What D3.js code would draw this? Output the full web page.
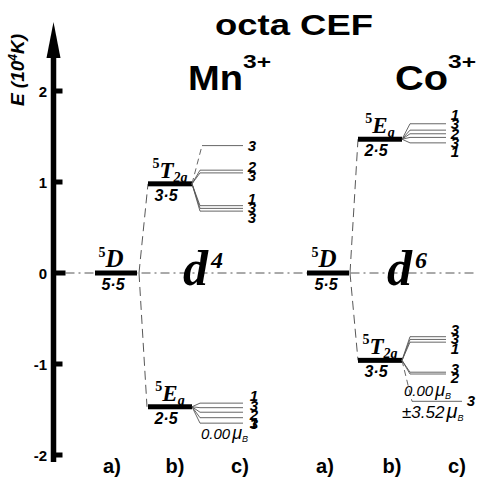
<!DOCTYPE html>
<html>
<head>
<meta charset="utf-8">
<script src="https://cdn.jsdelivr.net/npm/d3@7"></script>
<style>
    body { margin: 0; background: #fff; }
    svg text { fill: #000; }
</style>
</head>
<body>
<div id="chart"></div>
<script>
// energies in units of 10^4 K
const yTicks = [-2, -1, 0, 1, 2];
const ionNames = ["Mn", "Co"];
const dCount = [4, 6];
const columnLabels = ["a)", "b)", "c)"];

// free-ion term 5D (both ions)
const freeIonEnergy = [0, 0];
// CEF terms: [upper, lower] per ion
const mnTerms = [0.98, -1.47];
const mnTermNames = ["T", "E"];
const mnTermSubs = ["2g", "g"];
const mnTermMult = ["3·5", "2·5"];
const coTerms = [1.47, -0.96];
const coTermNames = ["E", "T"];
const coTermSubs = ["g", "2g"];
const coTermMult = ["2·5", "3·5"];

// fine-structure sublevels and their degeneracies
const mnT2gLevels = [1.40, 1.13, 1.10, 0.74, 0.71, 0.68];
const mnT2gDegen = [3, 2, 3, 1, 3, 3];
const mnEgLevels = [-1.43, -1.48, -1.53, -1.59, -1.65];
const mnEgDegen = [1, 3, 2, 3, 1];
const coEgLevels = [1.64, 1.57, 1.53, 1.49, 1.43];
const coEgDegen = [1, 3, 2, 3, 1];
const coT2gLevels = [-0.70, -0.73, -0.76, -1.09, -1.11, -1.41];
const coT2gDegen = [3, 3, 1, 3, 2, 3];

const mnMoments = ["0.00"];
const coMoments = ["0.00", "±3.52"];

const width = 477, height = 482;
const svg = d3.select("#chart").append("svg")
    .attr("width", width)
    .attr("height", height);

const y = d3.scaleLinear().domain([-2, 2]).range([455, 91]);
const axisX = 53.5;

// column centres (a, b) for each ion
const colX = { Mn: [116, 170], Co: [328, 380] };
const barHalf = [21, 22];
const sansB = "'Liberation Sans', Arial, sans-serif";
const serif = "'Liberation Serif', 'Times New Roman', serif";

// ---- zero line (dash-dot)
svg.append("line")
    .attr("x1", axisX + 12).attr("x2", width)
    .attr("y1", y(0)).attr("y2", y(0))
    .attr("stroke", "#555").attr("stroke-width", 1)
    .attr("stroke-dasharray", "9,4,2,4");

// ---- energy axis
svg.append("line")
    .attr("x1", axisX).attr("x2", axisX)
    .attr("y1", 50).attr("y2", 462)
    .attr("stroke", "#000").attr("stroke-width", 5.5);
svg.append("path")
    .attr("d", "M" + axisX + ",22 L" + (axisX - 7) + ",58 L" + (axisX + 7) + ",58 Z")
    .attr("fill", "#000");

svg.selectAll("rect.tick").data(yTicks).enter().append("rect")
    .attr("class", "tick")
    .attr("x", axisX)
    .attr("y", function(d) { return y(d) - 2.5; })
    .attr("width", function(d) { return d == 0 ? 12 : 9; })
    .attr("height", 5)
    .attr("fill", "#000");

svg.selectAll("text.ticklabel").data(yTicks).enter().append("text")
    .attr("class", "ticklabel")
    .attr("x", 47)
    .attr("y", function(d) { return y(d) + 5.5; })
    .attr("text-anchor", "end")
    .style("font", "bold 15px " + sansB)
    .text(function(d) { return d; });

const axisLabel = svg.append("text")
    .attr("transform", "translate(24,70) rotate(-90)")
    .attr("text-anchor", "middle")
    .style("font", "italic bold 19px " + sansB);
axisLabel.append("tspan").text("E (10");
axisLabel.append("tspan").attr("dy", -7).style("font-size", "12px").text("4");
axisLabel.append("tspan").attr("dy", 7).text("K)");

// ---- titles
svg.append("text")
    .attr("x", 215).attr("y", 35)
    .attr("textLength", 158)
    .attr("lengthAdjust", "spacingAndGlyphs")
    .style("font", "bold 29px " + sansB)
    .text("octa CEF");

const ionTitleX = [188, 395];
const ionTitleLen = [55, 53];
ionNames.forEach(function(name, i) {
    svg.append("text")
        .attr("x", ionTitleX[i]).attr("y", 90)
        .attr("textLength", ionTitleLen[i])
        .attr("lengthAdjust", "spacingAndGlyphs")
        .style("font", "bold 35px " + sansB)
        .text(name);
    svg.append("text")
        .attr("x", ionTitleX[i] + ionTitleLen[i]).attr("y", 68)
        .attr("textLength", 28)
        .attr("lengthAdjust", "spacingAndGlyphs")
        .style("font", "bold 19px " + sansB)
        .text("3+");
});

// ---- d^n labels
const dX = [183, 387];
dCount.forEach(function(n, i) {
    const t = svg.append("text")
        .attr("x", dX[i]).attr("y", y(0) + 12)
        .style("font", "italic bold 50px " + serif);
    t.append("tspan").text("d");
    t.append("tspan").attr("dx", 3).attr("dy", -17).style("font-size", "24px").text(n);
});

// ---- column labels
const colLabelX = { Mn: [112, 175, 240], Co: [325, 392, 457] };
ionNames.forEach(function(name) {
    svg.selectAll(null).data(columnLabels).enter().append("text")
        .attr("x", function(d, i) { return colLabelX[name][i]; })
        .attr("y", 473)
        .attr("text-anchor", "middle")
        .style("font", "bold 20px " + sansB)
        .text(function(d) { return d; });
});

// ---- helpers
function termLabel(x, e, letter, sub, mult, big) {
    const t = svg.append("text")
        .attr("x", x).attr("y", y(e) - 6)
        .attr("text-anchor", "middle")
        .style("font", "italic bold " + (big ? 25 : 23) + "px " + serif);
    t.append("tspan").attr("dy", -10).style("font-size", "14px").style("font-style", "normal").text("5");
    t.append("tspan").attr("dy", 10).text(letter);
    if (sub) t.append("tspan").attr("dy", 4).style("font-size", "14px").text(sub);
    svg.append("text")
        .attr("x", big ? x + 2 : x - 4).attr("y", y(e) + 17)
        .attr("text-anchor", "middle")
        .style("font", "italic bold 16px " + sansB)
        .text(mult);
}

function bar(xc, half, e) {
    svg.append("rect")
        .attr("x", xc - half).attr("y", y(e) - 2.5)
        .attr("width", 2 * half).attr("height", 5)
        .attr("fill", "#000");
}

function dashed(x1, e1, x2, e2) {
    svg.append("line")
        .attr("x1", x1).attr("y1", y(e1))
        .attr("x2", x2).attr("y2", y(e2))
        .attr("stroke", "#444").attr("stroke-width", 0.9)
        .attr("stroke-dasharray", "9,5");
}

// spread labels so that they keep a minimal spacing
function spread(ys, gap) {
    const out = ys.slice();
    for (let it = 0; it < 60; it++) {
        for (let k = 1; k < out.length; k++) {
            const d = out[k] - out[k - 1];
            if (d < gap) {
                const push = (gap - d) / 2;
                out[k - 1] -= push;
                out[k] += push;
            }
        }
    }
    return out;
}

function splitting(xEnd, eBar, levels, degen, groups, labelX, lineEnd, extendLast) {
    levels.forEach(function(e, i) {
        const yl = y(e);
        const last = extendLast && i == levels.length - 1;
        const far = Math.abs(yl - y(eBar)) > 30;
        const xs = xEnd + (far ? 10 : 8);
        svg.append("path")
            .attr("d", "M" + xEnd + "," + y(eBar) + " L" + xs + "," + yl)
            .attr("fill", "none")
            .attr("stroke", "#555").attr("stroke-width", 0.9)
            .attr("stroke-dasharray", far ? "6,4" : null);
        svg.append("path")
            .attr("d", "M" + xs + "," + yl + " L" + (last ? lineEnd + 16 : lineEnd) + "," + yl)
            .attr("fill", "none")
            .attr("stroke", "#555").attr("stroke-width", 0.9);
    });
    // labels per group of indices
    groups.forEach(function(g) {
        const ys = spread(g.map(function(i) { return y(levels[i]); }), 9.2);
        g.forEach(function(i, k) {
            const last = extendLast && i == levels.length - 1;
            svg.append("text")
                .attr("x", last ? labelX + 16 : labelX)
                .attr("y", ys[k] + 5)
                .attr("text-anchor", "middle")
                .style("font", "italic bold 15px " + sansB)
                .text(degen[i]);
        });
    });
}

function moment(x, yy, val, size) {
    const t = svg.append("text")
        .attr("x", x).attr("y", yy)
        .style("font", "italic " + size + "px " + sansB);
    t.append("tspan").text(val);
    t.append("tspan").attr("dx", 2).style("font-size", (size + 3) + "px").text("μ");
    t.append("tspan").attr("dy", 3).style("font-size", "9px").text("B");
}

// ---- Mn3+
const mnA = colX.Mn[0], mnB = colX.Mn[1];
bar(mnA, barHalf[0], freeIonEnergy[0]);
termLabel(mnA - 5, freeIonEnergy[0], "D", null, "5·5", true);
dashed(mnA + barHalf[0] + 2, freeIonEnergy[0], mnB - barHalf[1], mnTerms[0]);
dashed(mnA + barHalf[0] + 2, freeIonEnergy[0], mnB - barHalf[1] - 1, mnTerms[1]);
mnTerms.forEach(function(e, i) {
    bar(mnB, barHalf[1], e);
    termLabel(mnB, e, mnTermNames[i], mnTermSubs[i], mnTermMult[i]);
});
splitting(mnB + barHalf[1], mnTerms[0], mnT2gLevels, mnT2gDegen,
    [[0], [1, 2], [3, 4, 5]], 252, 243, false);
splitting(mnB + barHalf[1], mnTerms[1], mnEgLevels, mnEgDegen,
    [[0, 1, 2, 3], [4]], 254, 243, false);
moment(201, y(mnEgLevels[4]) + 16, mnMoments[0], 15);

// ---- Co3+
const coA = colX.Co[0], coB = colX.Co[1];
bar(coA, barHalf[0], freeIonEnergy[1]);
termLabel(coA - 4, freeIonEnergy[1], "D", null, "5·5", true);
dashed(coA + barHalf[0] + 1, freeIonEnergy[1], coB - barHalf[1], coTerms[0]);
dashed(coA + barHalf[0] + 1, freeIonEnergy[1], coB - barHalf[1], coTerms[1]);
coTerms.forEach(function(e, i) {
    bar(coB, barHalf[1], e);
    termLabel(coB, e, coTermNames[i], coTermSubs[i], coTermMult[i]);
});
splitting(coB + barHalf[1], coTerms[0], coEgLevels, coEgDegen,
    [[0, 1, 2, 3, 4]], 455, 446, false);
splitting(coB + barHalf[1], coTerms[1], coT2gLevels, coT2gDegen,
    [[0, 1, 2], [3, 4], [5]], 455, 446, true);
moment(404, y(coT2gLevels[4]) + 22, coMoments[0], 15);
moment(402, y(coT2gLevels[5]) + 17, coMoments[1], 17);
</script>
</body>
</html>
